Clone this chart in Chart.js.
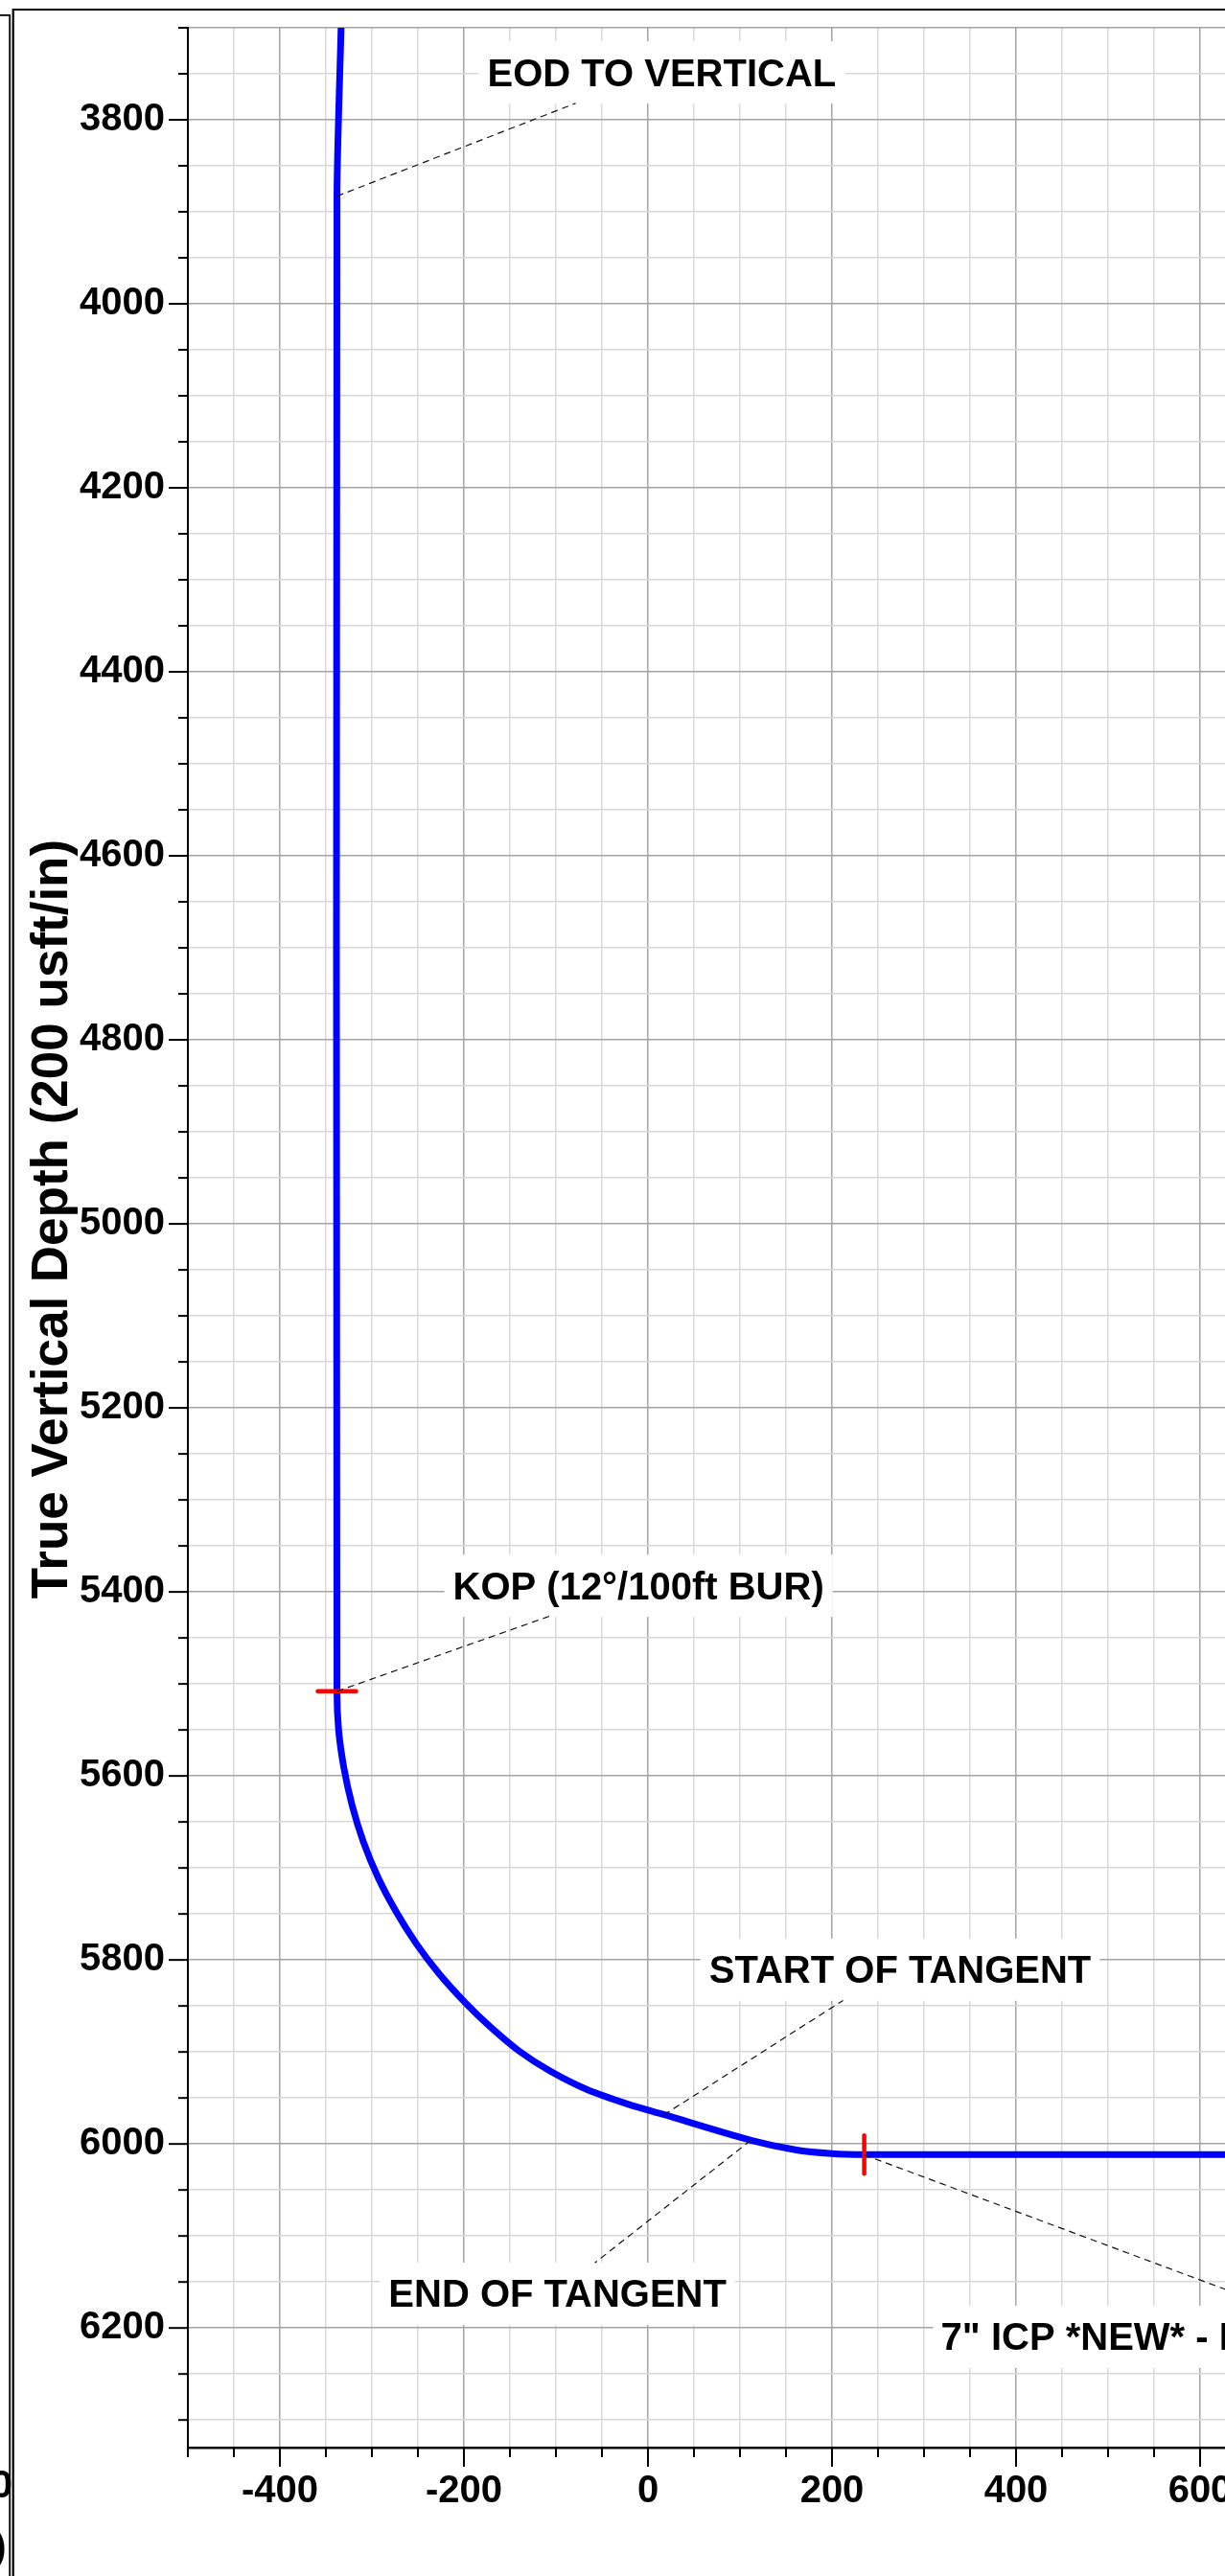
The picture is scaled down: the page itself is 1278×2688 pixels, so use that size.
<!DOCTYPE html>
<html>
<head>
<meta charset="utf-8">
<script src="https://cdn.jsdelivr.net/npm/chart.js@4.4.1/dist/chart.umd.min.js"></script>
<style>
html,body{margin:0;padding:0;background:#fff;overflow:hidden;}
#wrap{position:relative;width:1278px;height:2688px;overflow:hidden;background:#fff;}
canvas{display:block;}
</style>
</head>
<body>
<div id="wrap"><canvas id="c" width="1700" height="2688" style="width:1700px;height:2688px"></canvas></div>
<script>
// ---------------- data ----------------
// well path: vertical section (usft) vs true vertical depth (usft)
const vsValues  = [-333.5, -338, -338, -336.2, -330.5, -321.5, -309.5, -293.5, -274, -252, -227, -199, -170, -140, -106, -66, -21, 17, 112, 160, 200, 235, 1000];
const tvdValues = [3700, 3885, 5508, 5550, 5591, 5632, 5671, 5710, 5747, 5782, 5815, 5846, 5874, 5899, 5921, 5941, 5957, 5968, 5996, 6006.3, 6010.5, 6011.5, 6011.5];
// red crossing marks on the path (KOP, ICP)
const markerVs  = [-338, 235];
const markerTvd = [5508, 6011.5];
const markerRotation = [0, 90];
// axis ticks
const xTickLabels = [-400, -200, 0, 200, 400, 600, 800, 1000];
const yTickLabels = [3800, 4000, 4200, 4400, 4600, 4800, 5000, 5200, 5400, 5600, 5800, 6000, 6200];
const minorStep = 50;
const xRange = [-500, 1000];
const yRange = [3700, 6330];
const yTitle = 'True Vertical Depth (200 usft/in)';
// annotation texts
const labelTexts = ['EOD TO VERTICAL', 'KOP (12°/100ft BUR)', 'START OF TANGENT', 'END OF TANGENT', '7" ICP *NEW* - LANDING POINT'];

// annotation placement in data units (label centre / leader ends)
const notes = [
  {i:0, vs: 15,    tvd: 3748,   align:'center', aVs:-338,  aTvd:3883,   bVs:-78.5, bTvd:3782},
  {i:1, vs:-10.3,  tvd: 5392.7, align:'center', aVs:-338,  aTvd:5508,   bVs:-106,  bTvd:5426},
  {i:2, vs: 274,   tvd: 5810,   align:'center', aVs: 17.3, aTvd:5968.4, bVs: 212,  bTvd:5844},
  {i:3, vs:-98.3,  tvd: 6162.3, align:'center', aVs:111.6, aTvd:5996.1, bVs:-57.7, bTvd:6129.2},
  {i:4, vs: 318.3, tvd: 6209,   align:'left',   aVs: 235,  aTvd:6011.8, bVs: 681,  bTvd:6178}
];

const FONT = '"Liberation Sans", Arial, Helvetica, sans-serif';
const MAJOR = '#a3a3a3', MINOR = '#d9d9d9';

const pathData = vsValues.map((v, k) => ({x: v, y: tvdValues[k]}));
const markerData = markerVs.map((v, k) => ({x: v, y: markerTvd[k]}));

function stepTicks(min, max) {
  const out = [];
  for (let v = Math.ceil(min / minorStep) * minorStep; v <= max; v += minorStep) out.push({value: v});
  return out;
}
const isMajor = v => v % 200 === 0;

const deco = {
  id: 'deco',
  beforeDatasetsDraw(chart) {
    const ctx = chart.ctx, xs = chart.scales.x, ys = chart.scales.y;
    ctx.save();
    ctx.font = 'bold 40px ' + FONT;
    ctx.fillStyle = '#ffffff';
    notes.forEach(n => {
      const w = ctx.measureText(labelTexts[n.i]).width;
      const px = xs.getPixelForValue(n.vs), py = ys.getPixelForValue(n.tvd);
      const left = n.align === 'center' ? px - w / 2 - 9 : px - 8;
      ctx.fillRect(left, py - 32, w + 18, 65);
    });
    ctx.restore();
  },
  beforeDatasetDraw(chart, args) {
    if (args.index === 0) { chart.ctx.save(); chart.ctx.lineCap = 'round'; }
  },
  afterDatasetDraw(chart, args) {
    if (args.index === 0) { chart.ctx.restore(); }
  },
  afterDatasetsDraw(chart) {
    const ctx = chart.ctx, xs = chart.scales.x, ys = chart.scales.y;
    const ca = chart.chartArea;
    ctx.save();
    // tick marks
    ctx.strokeStyle = '#000';
    ctx.lineWidth = 2;
    ys.ticks.forEach(t => {
      const y = ys.getPixelForValue(t.value);
      const len = isMajor(t.value) ? 20 : 10;
      ctx.beginPath(); ctx.moveTo(ca.left, y); ctx.lineTo(ca.left - len, y); ctx.stroke();
    });
    xs.ticks.forEach(t => {
      const x = xs.getPixelForValue(t.value);
      const len = isMajor(t.value) ? 20 : 10;
      ctx.beginPath(); ctx.moveTo(x, ca.bottom); ctx.lineTo(x, ca.bottom + len); ctx.stroke();
    });
    // annotation texts
    ctx.font = 'bold 40px ' + FONT;
    ctx.fillStyle = '#000';
    ctx.textBaseline = 'alphabetic';
    notes.forEach(n => {
      ctx.textAlign = n.align;
      ctx.fillText(labelTexts[n.i], xs.getPixelForValue(n.vs), ys.getPixelForValue(n.tvd) + 14.5);
    });
    // dashed leaders
    ctx.setLineDash([7, 5]);
    ctx.lineWidth = 1.2;
    ctx.strokeStyle = '#111';
    notes.forEach(n => {
      ctx.beginPath();
      ctx.moveTo(xs.getPixelForValue(n.aVs), ys.getPixelForValue(n.aTvd));
      ctx.lineTo(xs.getPixelForValue(n.bVs), ys.getPixelForValue(n.bTvd));
      ctx.stroke();
    });
    ctx.restore();
  },
  afterDraw(chart) {
    const ctx = chart.ctx;
    const W = chart.width, H = chart.height;
    ctx.save();
    // y axis title
    ctx.font = 'bold 53px ' + FONT;
    ctx.fillStyle = '#000';
    ctx.textAlign = 'center';
    ctx.textBaseline = 'alphabetic';
    ctx.translate(70, 1272);
    ctx.rotate(-Math.PI / 2);
    ctx.fillText(yTitle, 0, 0);
    ctx.restore();
    // fragments of the neighbouring sheet on the left edge
    ctx.save();
    ctx.font = 'bold 40px ' + FONT;
    ctx.fillStyle = '#000';
    ctx.textAlign = 'right';
    ctx.textBaseline = 'alphabetic';
    ctx.fillText('0', 13, 2606);
    ctx.fillText(')', 6.5, 2671);
    // frames
    ctx.strokeStyle = '#000';
    ctx.lineWidth = 1.8;
    ctx.beginPath(); ctx.moveTo(0, 15.8); ctx.lineTo(10.2, 15.8); ctx.lineTo(10.2, H); ctx.stroke();
    ctx.lineWidth = 2.2;
    ctx.beginPath(); ctx.moveTo(13.7, H); ctx.lineTo(13.7, 10); ctx.lineTo(W, 10); ctx.stroke();
    ctx.restore();
  }
};

const tickFont = {family: FONT, size: 40, weight: 'bold'};

new Chart(document.getElementById('c'), {
  type: 'scatter',
  data: {
    datasets: [
      {
        label: 'markers',
        data: markerData,
        showLine: false,
        pointStyle: 'line',
        pointRadius: 20,
        pointHoverRadius: 20,
        pointRotation: markerRotation,
        pointBorderWidth: 4.5,
        borderColor: '#ff0000',
        backgroundColor: '#ff0000',
        order: 0
      },
      {
        label: 'well path',
        data: pathData,
        showLine: true,
        borderColor: '#0000ff',
        borderWidth: 7,
        borderCapStyle: 'round',
        borderJoinStyle: 'round',
        pointRadius: 0,
        tension: 0.25,
        order: 1
      }
    ]
  },
  options: {
    responsive: false,
    animation: false,
    devicePixelRatio: 1,
    layout: {padding: {left: 0, top: 29, right: 64, bottom: 0}},
    plugins: {legend: {display: false}, tooltip: {enabled: false}},
    scales: {
      x: {
        type: 'linear',
        min: xRange[0], max: xRange[1],
        afterBuildTicks: s => { s.ticks = stepTicks(xRange[0], xRange[1]); },
        afterFit: s => { s.height = 134; },
        ticks: {
          autoSkip: false, maxRotation: 0, minRotation: 0,
          padding: 2, color: '#000', font: tickFont,
          callback: v => xTickLabels.includes(v) ? String(v) : ''
        },
        grid: {
          color: c => isMajor(c.tick.value) ? MAJOR : MINOR,
          lineWidth: 1.5,
          drawTicks: true, tickLength: 20, tickColor: 'rgba(0,0,0,0)'
        },
        border: {display: true, color: '#000', width: 2.5}
      },
      y: {
        type: 'linear',
        reverse: true,
        min: yRange[0], max: yRange[1],
        afterBuildTicks: s => { s.ticks = stepTicks(yRange[0], yRange[1]); },
        afterFit: s => { s.width = 196; },
        ticks: {
          autoSkip: false, padding: 4, color: '#000', font: tickFont,
          callback: v => yTickLabels.includes(v) ? String(v) : ''
        },
        grid: {
          color: c => (isMajor(c.tick.value) || c.tick.value === yRange[0]) ? MAJOR : MINOR,
          lineWidth: 1.5,
          drawTicks: true, tickLength: 20, tickColor: 'rgba(0,0,0,0)'
        },
        border: {display: true, color: '#000', width: 2}
      }
    }
  },
  plugins: [deco]
});
</script>
</body>
</html>
